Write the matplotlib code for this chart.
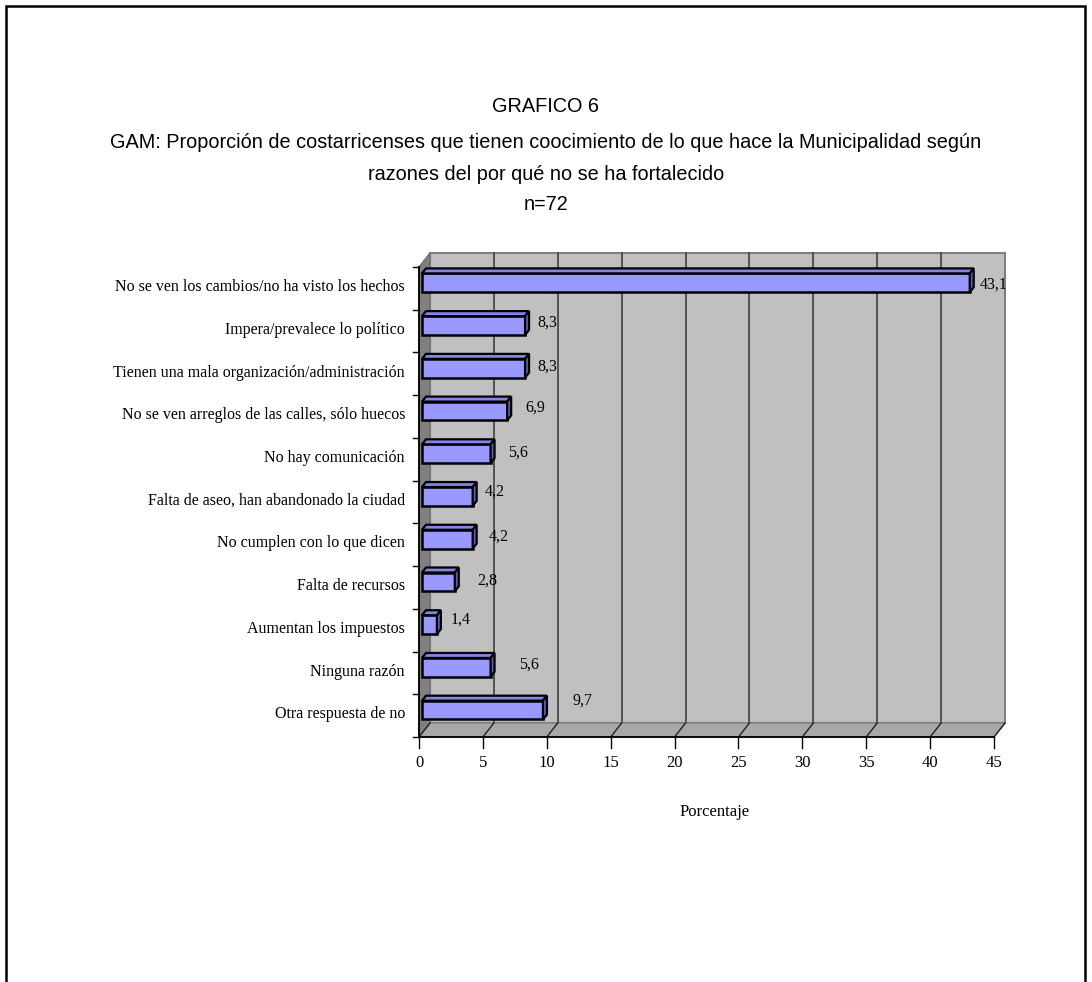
import matplotlib
matplotlib.use("Agg")
import matplotlib.pyplot as plt
from matplotlib.patches import Polygon, Rectangle

categories = [
    "No se ven los cambios/no ha visto los hechos",
    "Impera/prevalece lo político",
    "Tienen una mala organización/administración",
    "No se ven arreglos de las calles, sólo huecos",
    "No hay comunicación",
    "Falta de aseo, han abandonado la ciudad",
    "No cumplen con lo que dicen",
    "Falta de recursos",
    "Aumentan los impuestos",
    "Ninguna razón",
    "Otra respuesta de no",
]
values = [43.1, 8.3, 8.3, 6.9, 5.6, 4.2, 4.2, 2.8, 1.4, 5.6, 9.7]
value_labels = ["43,1", "8,3", "8,3", "6,9", "5,6", "4,2", "4,2", "2,8", "1,4", "5,6", "9,7"]
xticks = [0, 5, 10, 15, 20, 25, 30, 35, 40, 45]
title_lines = [
    "GRAFICO 6",
    "GAM: Proporción de costarricenses que tienen coocimiento de lo que hace la Municipalidad según",
    "razones del por qué no se ha fortalecido",
    "n=72",
]
xlabel = "Porcentaje"

# value-label offsets from the bar end (pixels, right / up) as placed in the original
label_dx = [24, 22, 22, 28, 27, 22, 26, 32, 24, 38, 40]
label_dy = [-2, 3, 2, 3, 1, 5, 3, 1, 5, 3, 9]

serif = "Liberation Serif"
sans = "Liberation Sans"

W, H = 1092, 982
fig = plt.figure(figsize=(W / 100, H / 100), dpi=100)

# pixel geometry of the front plane
x0_px, x45_px = 419, 994
ybot_px, ytop_px = 737, 267
ax = fig.add_axes([x0_px / W, 1 - ybot_px / H, (x45_px - x0_px) / W, (ybot_px - ytop_px) / H])
ax.set_xlim(0, 45)
ax.set_ylim(0, 11)
ax.set_axis_off()

ppx = 45 / (x45_px - x0_px)          # data units per pixel (x)
ppy = 11 / (ybot_px - ytop_px)       # data units per pixel (y)
dx = 11 * ppx
dy = 14 * ppy

wall = "#C0C0C0"
# back wall
ax.add_patch(Rectangle((dx, dy), 45, 11, facecolor=wall, edgecolor="#808080", lw=1.5, zorder=1, clip_on=False))
# side wall
ax.add_patch(Polygon([(0, 0), (dx, dy), (dx, 11 + dy), (0, 11)], closed=True,
                     facecolor="#808080", edgecolor="#707070", lw=1.0, zorder=1.5, clip_on=False))
# floor
ax.add_patch(Polygon([(0, 0), (45, 0), (45 + dx, dy), (dx, dy)], closed=True,
                     facecolor="#A8A8A8", edgecolor="#808080", lw=1.0, zorder=1.5, clip_on=False))
# gridlines on back wall and floor
for t in xticks[1:-1]:
    ax.plot([t + dx, t + dx], [dy, 11 + dy], color="#404040", lw=1.2, zorder=1.2, clip_on=False)
for t in xticks:
    ax.plot([t, t + dx], [0, dy], color="#202020", lw=1.0, zorder=1.6, clip_on=False)

# axes lines
ax.plot([0, 0], [0, 11], color="black", lw=1.3, zorder=5, clip_on=False)
ax.plot([0, 45], [0, 0], color="black", lw=1.3, zorder=5, clip_on=False)
for t in xticks:
    ax.plot([t, t], [0, -11 * ppy], color="black", lw=1.0, zorder=5, clip_on=False)
for k in range(12):
    ax.plot([0, -6 * ppx], [k, k], color="black", lw=1.0, zorder=5, clip_on=False)

# bars (front face via barh, top and side faces as 3D extrusion)
n = len(categories)
ypos = [n - 0.5 - i + 0.13 for i in range(n)]
h = 0.44
bdx, bdy = 4 * ppx, 5 * ppy
x_start = 3 * ppx
bars = ax.barh(ypos, [v - x_start for v in values], left=x_start, height=h,
               color="#9999FF", edgecolor="black", linewidth=1.8, zorder=6)
for b, v in zip(bars, values):
    yb = b.get_y()
    yt = yb + h
    ax.add_patch(Polygon([(x_start, yt), (v, yt), (v + bdx, yt + bdy), (x_start + bdx, yt + bdy)],
                         closed=True, facecolor="#8585E8", edgecolor="black", lw=1.6, zorder=6))
    ax.add_patch(Polygon([(v, yb), (v + bdx, yb + bdy), (v + bdx, yt + bdy), (v, yt)],
                         closed=True, facecolor="#5C5CB0", edgecolor="black", lw=1.6, zorder=6))

# value labels
for i, (v, lab) in enumerate(zip(values, value_labels)):
    ax.text(v + label_dx[i] * ppx, ypos[i] + label_dy[i] * ppy, lab,
            ha="center", va="center", family=serif, fontsize=11.5, zorder=7)

# category labels
for i, c in enumerate(categories):
    ax.text(-14 * ppx, n - 0.5 - i + 0.03, c, ha="right", va="center", family=serif, fontsize=11.5)

# tick labels
for t in xticks:
    ax.text(t, -26 * ppy, str(t), ha="center", va="center", family=serif, fontsize=12)
fig.text(715 / W, 1 - 812 / H, xlabel, ha="center", va="center", family=serif, fontsize=12)

# titles
ty = [107, 143, 175, 204]
for s, y in zip(title_lines, ty):
    fig.text(546 / W, 1 - y / H, s, ha="center", va="center", family=sans, fontsize=14.3)

# outer border
fig.add_artist(Rectangle((6 / W, -0.05), (1085 - 6) / W, 1 - 6 / H + 0.05, transform=fig.transFigure,
                         fill=False, edgecolor="black", lw=1.8))

fig.savefig("out.png", dpi=100)
